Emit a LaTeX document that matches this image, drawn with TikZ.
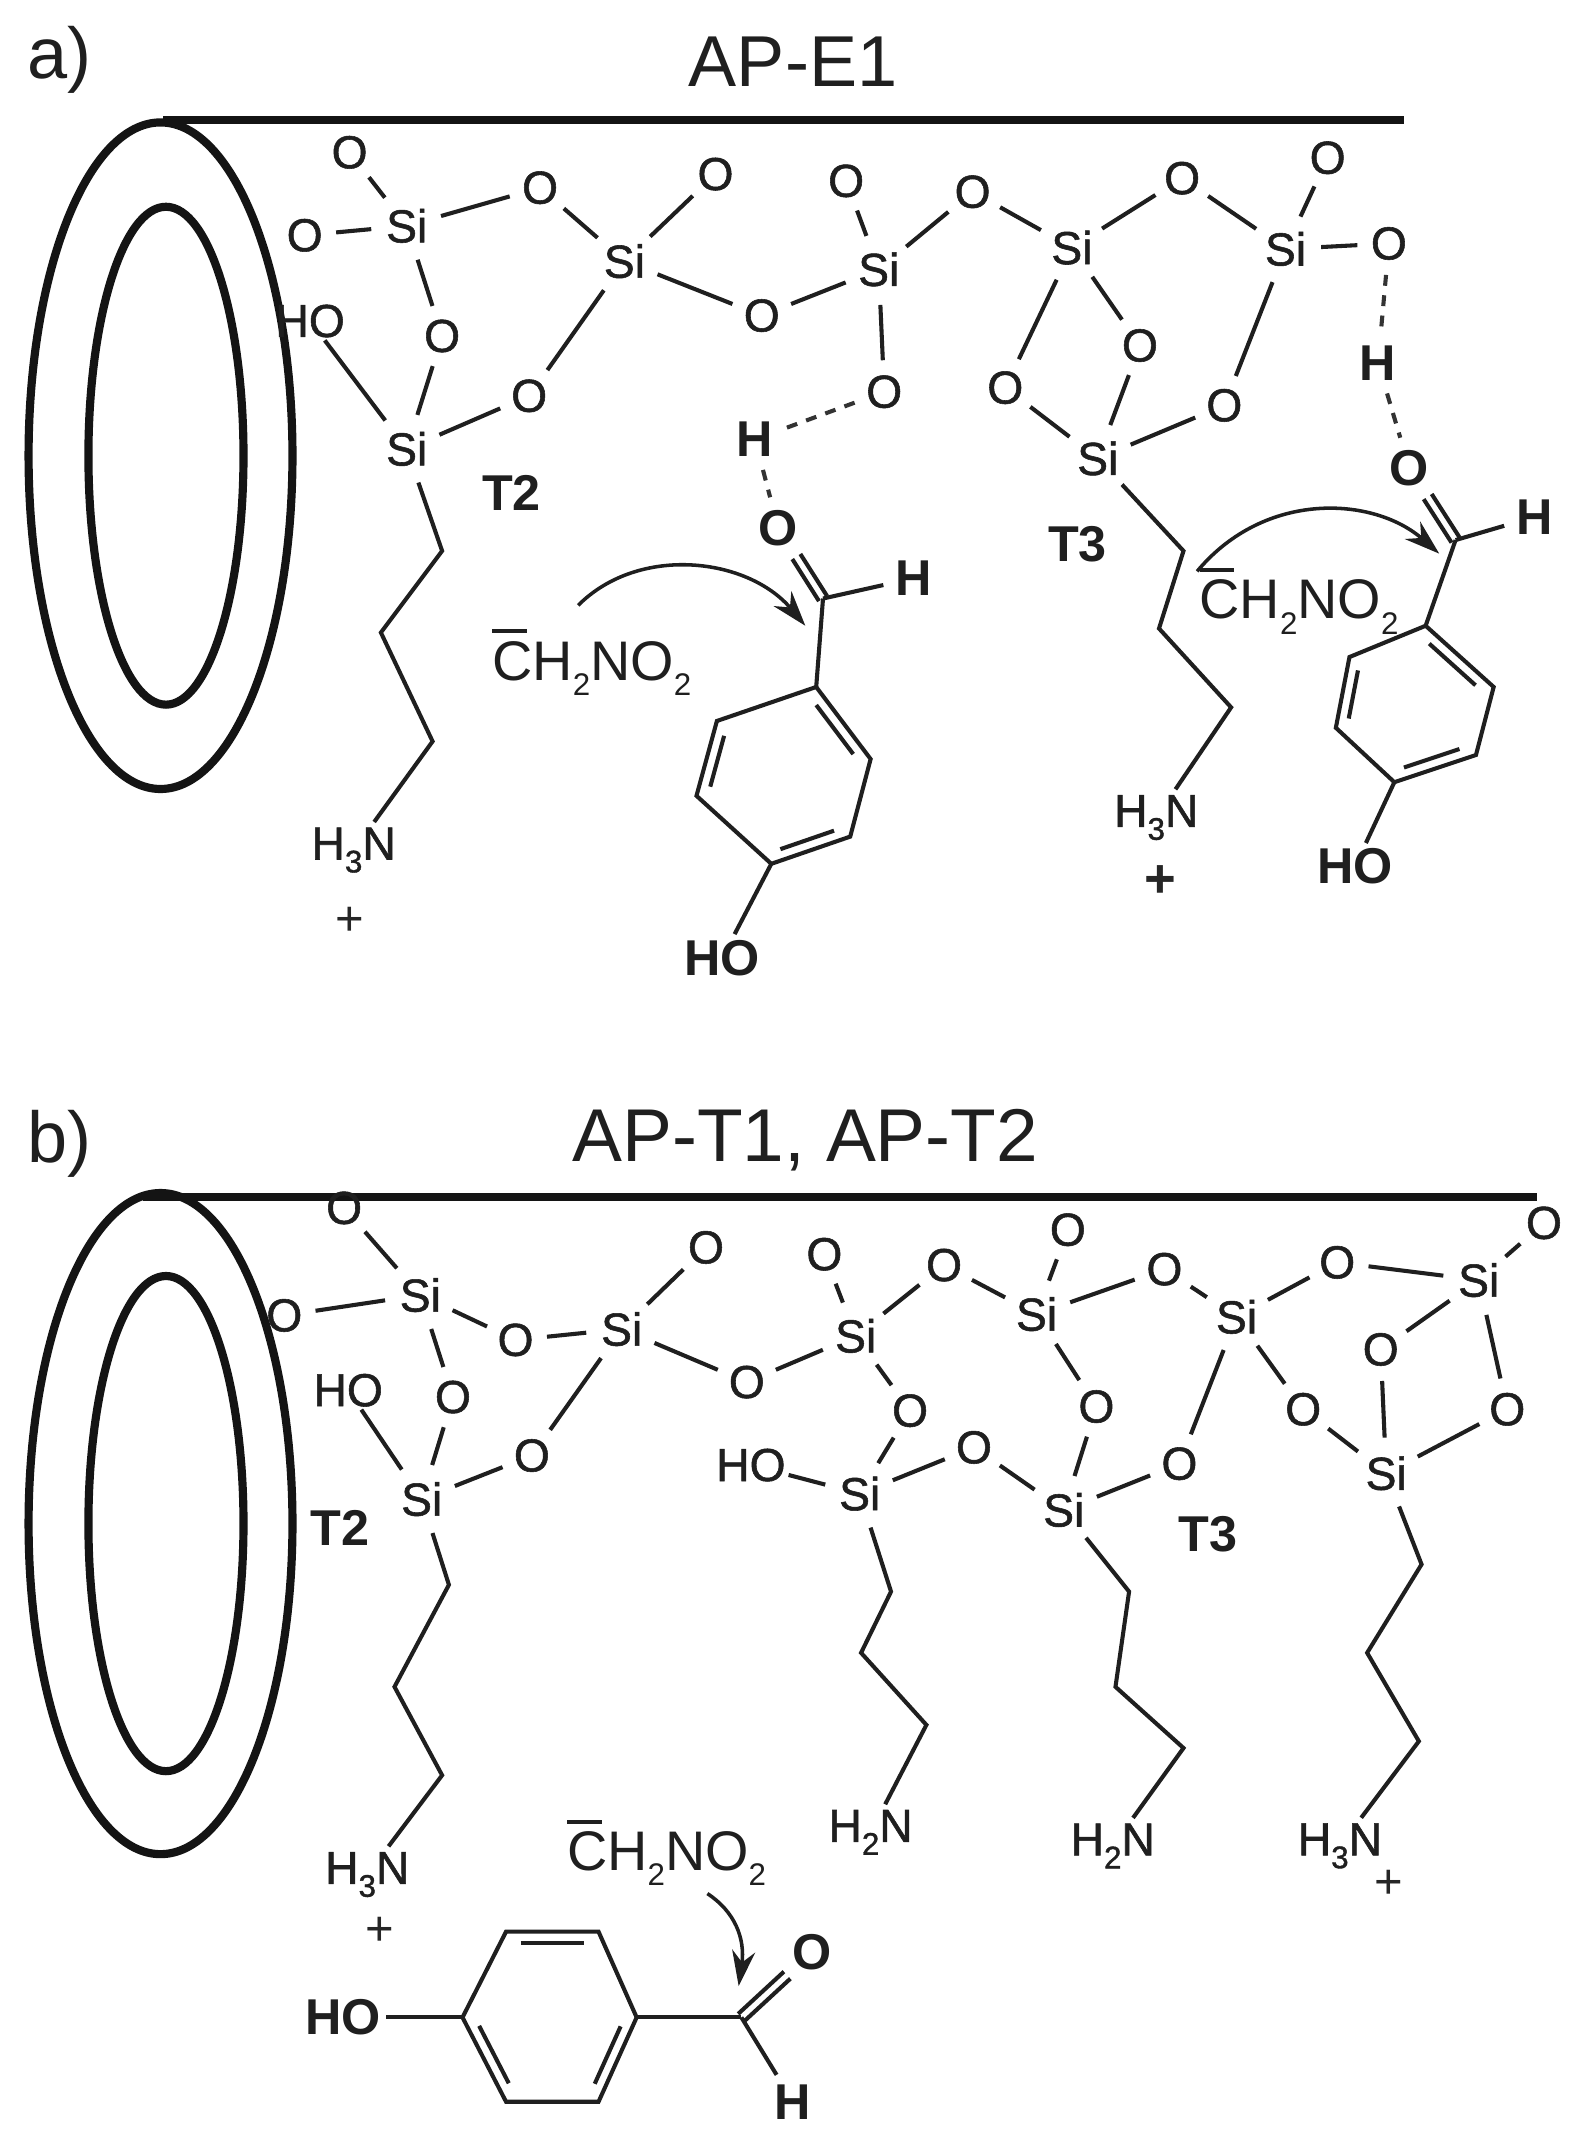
\documentclass[tikz,border=0pt]{standalone}
\usepackage{fontspec}
\setmainfont{Liberation Sans}
\newfontfamily\medf[RawFeature={embolden=1.2}]{Liberation Sans}
\usetikzlibrary{calc,arrows.meta}
\newcommand{\subn}[1]{\raisebox{-.28em}{\fontsize{23}{23}\selectfont #1}}
\newcommand{\cbar}{\rlap{\raisebox{.84em}{\rule{.62em}{.07em}}}C}
\newcommand{\nitro}{\cbar H\subn{2}NO\subn{2}}
\newcommand{\inb}[3]{\draw[bond] ($(#1)!.16!(#2)!#3!-90:(#2)$) -- ($(#2)!.16!(#1)!#3!90:(#1)$);}
\newcommand{\dbl}[2]{\draw[bond] ($(#1)!3.5pt!90:(#2)$) -- ($($(#2)!25pt!(#1)$)!3.5pt!-90:(#1)$);\draw[bond] ($(#1)!3.5pt!-90:(#2)$) -- ($($(#2)!25pt!(#1)$)!3.5pt!90:(#1)$);}
\tikzset{
 bond/.style={line width=3pt,black!88},
 hbond/.style={line width=3pt,black!80,dash pattern=on 8pt off 7pt},
 wall/.style={line width=6pt,black!92},
 atom/.style={circle,inner sep=0pt,minimum size=46pt,font=\medf\fontsize{34}{34}\selectfont,text=black!88},
 siatom/.style={atom,minimum size=52pt},
 batom/.style={atom,font=\fontsize{37}{37}\selectfont\bfseries},
 group/.style={rectangle,inner sep=4pt,font=\medf\fontsize{34}{34}\selectfont,text=black!88},
 nitrogroup/.style={rectangle,inner sep=4pt,font=\fontsize{41}{41}\selectfont,text=black!88},
 bgroup/.style={group,font=\fontsize{37}{37}\selectfont\bfseries},
 lab/.style={inner sep=0pt,font=\fontsize{37}{37}\selectfont\bfseries,text=black!88},
 plus/.style={inner sep=0pt,font=\fontsize{36}{36}\selectfont,text=black!85},
 title/.style={inner sep=0pt,font=\fontsize{53}{53}\selectfont,text=black!88},
 curved/.style={line width=2.6pt,black!88,-{Stealth[length=26pt,width=17pt]}},
}
\begin{document}
\begin{tikzpicture}[x=1pt,y=-1pt]
\useasboundingbox (0,0) rectangle (1159,1568);
\fill[white] (0,0) rectangle (1159,1568);
% ---------- a
\node[title] (ta) at (44,44) {a)};
\node[title] (tta) at (583,45) {AP-E1};
\coordinate (wa1) at (120,88); \coordinate (wa2) at (1032,88);
\draw[wall] (wa1) -- (wa2);
\draw[wall] (118,335) ellipse [x radius=97,y radius=245];
\draw[wall] (122,335) ellipse [x radius=57,y radius=183];
\foreach \n/\p in {oA1/{257,112},oA2/{224,173},oA3/{397,138},oA4/{526,128},oA5/{325,247},oA6/{389,291},oA7/{560,232},oA8/{622,133},oA9/{715,141},oA10/{650,288},oA11/{869,131},oA12/{976,116},oA13/{1021,179},oA14/{838,254},oA15/{739,285},oA16/{900,298}}
  \node[atom] (\n) at (\p) {O};
\foreach \n/\p in {siA1/{299,166},siA2/{459,192},siA3/{299,330},siA4/{646,198},siA5/{788,182},siA6/{945,183},siA7/{807,337}}
  \node[siatom] (\n) at (\p) {Si};
\node[group,inner sep=2pt] (hoA) at (228,236) {HO};
\foreach \a/\b in {siA1/oA1,siA1/oA2,siA1/oA3,oA3/siA2,siA2/oA4,siA1/oA5,oA5/siA3,hoA/siA3,siA3/oA6,oA6/siA2,siA2/oA7,oA7/siA4,siA4/oA8,siA4/oA9,oA9/siA5,siA5/oA11,oA11/siA6,siA6/oA12,siA6/oA13,siA5/oA14,oA14/siA7,siA5/oA15,oA15/siA7,siA7/oA16,oA16/siA6,siA4/oA10}
  \draw[bond] (\a) -- (\b);
\node[lab] (t2a) at (376,362) {T2};
\node[lab] (t3a) at (792,400) {T3};
% chain left a
\coordinate (ca1) at (325,405); \coordinate (ca2) at (280,465); \coordinate (ca3) at (318,545);
\node[group] (nA1) at (260,625) {H\subn{3}N};
\node[plus] (pA1) at (257,677) {+};
\draw[bond] (siA3) -- (ca1) -- (ca2) -- (ca3) -- (nA1);
% chain right a
\coordinate (cb1) at (870,405); \coordinate (cb2) at (852,462); \coordinate (cb3) at (905,520);
\node[group] (nA2) at (850,601) {H\subn{3}N};
\node[plus,font=\bfseries\fontsize{40}{40}\selectfont] (pA2) at (853,648) {+};
\draw[bond] (siA7) -- (cb1) -- (cb2) -- (cb3) -- (nA2);
% benzaldehyde 1
\node[batom] (hH1) at (555,323) {H};
\node[batom] (oC1) at (572,388) {O};
\node[batom] (hC1) at (672,425) {H};
\coordinate (cC1) at (605,440);
\coordinate (r1a) at (600,505); \coordinate (r1b) at (640,558); \coordinate (r1c) at (625,615);
\coordinate (r1d) at (567,635); \coordinate (r1e) at (512,585); \coordinate (r1f) at (527,530);
\node[bgroup] (hoB1) at (531,704) {HO};
\draw[bond] (r1a) -- (r1b) -- (r1c) -- (r1d) -- (r1e) -- (r1f) -- cycle;
\inb{r1a}{r1b}{8pt} \inb{r1c}{r1d}{8pt} \inb{r1e}{r1f}{8pt}
\draw[bond] (r1d) -- (hoB1);
\draw[bond] (cC1) -- (r1a);
\draw[bond] (cC1) -- (hC1);
\dbl{cC1}{oC1}
\draw[hbond] (oA10) -- (hH1);
\draw[hbond] (hH1) -- (oC1);
\node[nitrogroup] (nit1) at (435,487) {\nitro};
\coordinate (ar1s) at (425,445); \coordinate (ar1e) at (592,460);
\draw[curved] (ar1s) .. controls (470,400) and (550,410) .. (ar1e);
% benzaldehyde 2
\node[batom] (hH2) at (1013,267) {H};
\node[batom] (oC2) at (1036,344) {O};
\node[batom] (hC2) at (1128,380) {H};
\coordinate (cC2) at (1070,397);
\coordinate (r2a) at (1048,460); \coordinate (r2b) at (1098,505); \coordinate (r2c) at (1085,555);
\coordinate (r2d) at (1025,575); \coordinate (r2e) at (982,535); \coordinate (r2f) at (992,483);
\node[bgroup] (hoB2) at (996,637) {HO};
\draw[bond] (r2a) -- (r2b) -- (r2c) -- (r2d) -- (r2e) -- (r2f) -- cycle;
\inb{r2a}{r2b}{8pt} \inb{r2c}{r2d}{8pt} \inb{r2e}{r2f}{8pt}
\draw[bond] (r2d) -- (hoB2);
\draw[bond] (cC2) -- (r2a);
\draw[bond] (cC2) -- (hC2);
\dbl{cC2}{oC2}
\draw[hbond] (oA13) -- (hH2);
\draw[hbond] (hH2) -- (oC2);
\node[nitrogroup] (nit2) at (955,442) {\nitro};
\coordinate (ar2s) at (880,420); \coordinate (ar2e) at (1058,407);
\draw[curved] (ar2s) .. controls (930,360) and (1010,365) .. (ar2e);
% ---------- b
\node[title] (tb) at (44,841) {b)};
\node[title,font=\fontsize{55}{55}\selectfont] (ttb) at (592,838) {AP-T1, AP-T2};
\coordinate (wb1) at (105,880); \coordinate (wb2) at (1130,880);
\draw[wall] (wb1) -- (wb2);
\draw[wall] (118,1120) ellipse [x radius=97,y radius=243];
\draw[wall] (122,1120) ellipse [x radius=57,y radius=182];
\foreach \n/\p in {o1/{253,888},o2/{209,967},o3/{379,985},o4/{519,917},o5/{333,1027},o6/{391,1070},o7/{549,1016},o8/{606,922},o9/{694,930},o10/{785,904},o11/{856,933},o12/{983,928},o13/{1135,899},o14/{1015,992},o15/{1108,1036},o16/{958,1036},o17/{867,1076},o18/{806,1034},o19/{716,1064},o20/{669,1037}}
  \node[atom] (\n) at (\p) {O};
\foreach \n/\p in {s1/{309,952},s2/{457,977},s3/{310,1102},s4/{629,982},s5/{762,966},s6/{909,968},s7/{1087,941},s8/{1019,1083},s9/{782,1110},s10/{632,1098}}
  \node[siatom] (\n) at (\p) {Si};
\node[group,inner sep=2pt] (ho1) at (256,1022) {HO};
\node[group,inner sep=2pt] (ho2) at (552,1077) {HO};
\foreach \a/\b in {s1/o1,s1/o2,s1/o3,o3/s2,s2/o4,s1/o5,o5/s3,ho1/s3,s3/o6,o6/s2,s2/o7,o7/s4,s4/o8,s4/o9,o9/s5,s5/o10,s5/o11,o11/s6,s6/o12,o12/s7,s7/o13,s7/o14,s7/o15,o14/s8,o15/s8,s6/o16,o16/s8,s6/o17,o17/s9,s5/o18,o18/s9,s9/o19,o19/s10,s4/o20,o20/s10,ho2/s10}
  \draw[bond] (\a) -- (\b);
\node[lab] (t2b) at (250,1123) {T2};
\node[lab] (t3b) at (888,1128) {T3};
% chains
\coordinate (d1) at (330,1165); \coordinate (d2) at (290,1240); \coordinate (d3) at (325,1305);
\node[group] (n1) at (270,1378) {H\subn{3}N};
\node[plus] (p1) at (279,1420) {+};
\draw[bond] (s3) -- (d1) -- (d2) -- (d3) -- (n1);
\coordinate (e1) at (655,1170); \coordinate (e2) at (633,1215); \coordinate (e3) at (681,1268);
\node[group] (n2) at (640,1347) {H\subn{2}N};
\draw[bond] (s10) -- (e1) -- (e2) -- (e3) -- (n2);
\coordinate (f1) at (830,1170); \coordinate (f2) at (820,1240); \coordinate (f3) at (870,1285);
\node[group] (n3) at (818,1357) {H\subn{2}N};
\draw[bond] (s9) -- (f1) -- (f2) -- (f3) -- (n3);
\coordinate (g1) at (1045,1150); \coordinate (g2) at (1005,1215); \coordinate (g3) at (1043,1280);
\node[group] (n4) at (985,1357) {H\subn{3}N};
\node[plus] (p4) at (1021,1385) {+};
\draw[bond] (s8) -- (g1) -- (g2) -- (g3) -- (n4);
% benzaldehyde 3
\node[nitrogroup] (nit3) at (490,1362) {\nitro};
\node[bgroup] (hoB3) at (252,1483) {HO};
\node[batom] (oC3) at (597,1435) {O};
\node[batom] (hC3) at (583,1545) {H};
\coordinate (cC3) at (545,1483);
\coordinate (r3a) at (340,1483); \coordinate (r3b) at (372,1420); \coordinate (r3c) at (440,1420);
\coordinate (r3d) at (468,1483); \coordinate (r3e) at (440,1545); \coordinate (r3f) at (372,1545);
\draw[bond] (r3a) -- (r3b) -- (r3c) -- (r3d) -- (r3e) -- (r3f) -- cycle;
\inb{r3b}{r3c}{8pt} \inb{r3d}{r3e}{8pt} \inb{r3f}{r3a}{8pt}
\draw[bond] (hoB3) -- (r3a);
\draw[bond] (r3d) -- (cC3);
\draw[bond] (cC3) -- (hC3);
\dbl{cC3}{oC3}
\coordinate (ar3s) at (520,1392); \coordinate (ar3e) at (543,1460);
\draw[curved] (ar3s) .. controls (540,1405) and (548,1425) .. (ar3e);
\end{tikzpicture}
\end{document}
